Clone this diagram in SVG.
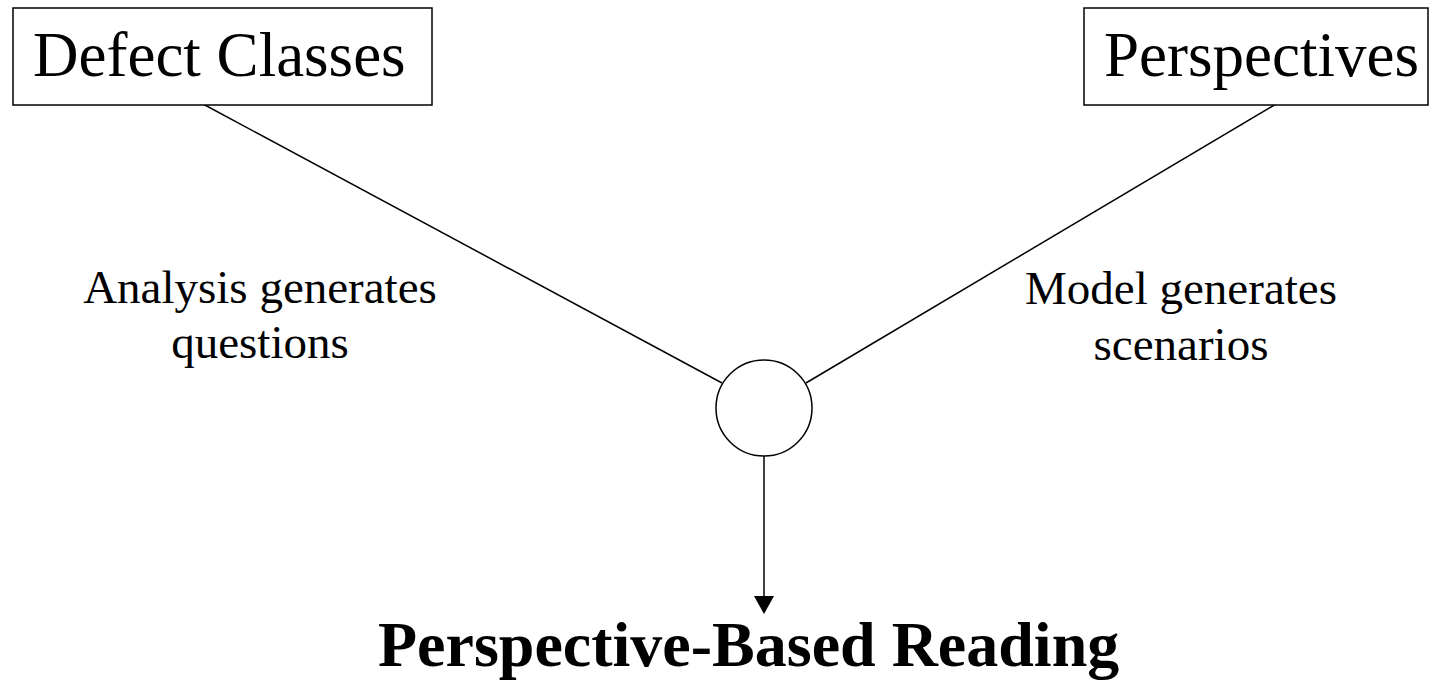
<svg xmlns="http://www.w3.org/2000/svg" width="1433" height="684" viewBox="0 0 1433 684">
<style>
.box{fill:#fff;stroke:#000;stroke-width:1.5}
.t{font-family:"Liberation Serif","Times New Roman",serif;fill:#000}
.big{font-size:63px}
.lbl{font-size:47px;text-anchor:middle}
.title{font-size:64px;font-weight:bold}
.ln{stroke:#000;stroke-width:1.5;fill:none}
</style>
<rect width="1433" height="684" fill="#fff"/>
<g id="connectors">
<line class="ln" x1="203" y1="104" x2="722" y2="383"/>
<line class="ln" x1="1276" y1="104" x2="806" y2="383"/>
<line class="ln" x1="764" y1="456" x2="764" y2="598"/>
<polygon points="754,596 774,596 764,614" fill="#000"/>
</g>
<g id="defect-classes">
<rect class="box" x="13" y="8" width="419" height="97"/>
<text class="t big" x="33" y="76">Defect Classes</text>
</g>
<g id="perspectives">
<rect class="box" x="1084" y="8" width="344" height="97"/>
<text class="t big" x="1104" y="76">Perspectives</text>
</g>
<g id="junction">
<circle class="box" cx="764" cy="408" r="48"/>
</g>
<g id="label-analysis">
<text class="t lbl" x="260" y="303">Analysis generates</text>
<text class="t lbl" x="260" y="358">questions</text>
</g>
<g id="label-model">
<text class="t lbl" x="1181" y="304">Model generates</text>
<text class="t lbl" x="1181" y="360">scenarios</text>
</g>
<g id="pbr">
<text class="t title" x="378" y="666">Perspective-Based Reading</text>
</g>
</svg>
